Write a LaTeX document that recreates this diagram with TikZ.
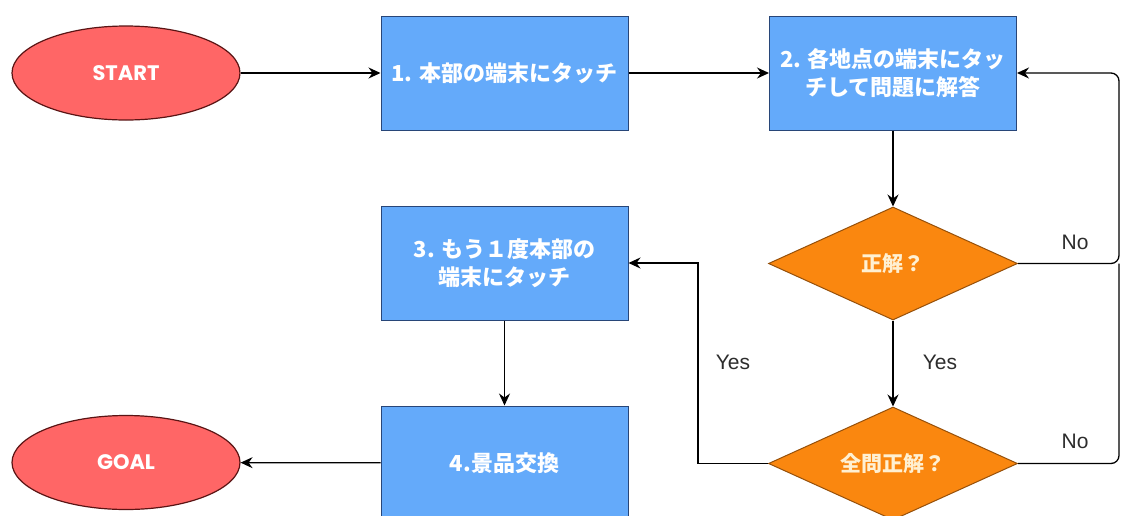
\documentclass[tikz,border=0pt]{standalone}
\usepackage{fontspec}
\newfontfamily\jp{Noto Sans CJK JP}
\newfontfamily\disp{Poppins}
\newfontfamily\lab{Liberation Sans}
\usetikzlibrary{shapes.geometric,arrows.meta}
\definecolor{ellfill}{RGB}{255,102,102}
\definecolor{elldraw}{RGB}{90,20,20}
\definecolor{boxfill}{RGB}{100,170,250}
\definecolor{boxdraw}{RGB}{40,70,120}
\definecolor{diafill}{RGB}{250,135,15}
\definecolor{diadraw}{RGB}{150,80,10}
\definecolor{diatext}{RGB}{255,240,210}
\definecolor{labtext}{RGB}{45,45,45}
\begin{document}
\begin{tikzpicture}[x=1pt,y=-1pt,
  term/.style={ellipse, draw=elldraw, fill=ellfill, line width=1.2pt, inner sep=0pt,
    minimum width=228pt, minimum height=94pt, text=white, font=\disp\bfseries\fontsize{21}{24}\selectfont},
  proc/.style={rectangle, draw=boxdraw, fill=boxfill, line width=1pt, inner sep=0pt,
    minimum width=247pt, minimum height=114pt, text=white, align=center,
    font=\jp\bfseries\fontsize{22}{28}\selectfont},
  dec/.style={diamond, draw=diadraw, fill=diafill, line width=1pt, inner sep=0pt, aspect=2.2,
    minimum width=249pt, minimum height=113pt, text=diatext,
    font=\jp\bfseries\fontsize{21}{24}\selectfont},
  lbl/.style={text=labtext, font=\lab\fontsize{21}{24}\selectfont, inner sep=1pt},
  conn/.style={draw=black, line width=1.3pt},
  arr/.style={conn, -{Stealth[length=12pt, width=11pt, inset=4pt]}}
]
\useasboundingbox (0,0) rectangle (1122,515);
\clip (0,0) rectangle (1122,515);
\fill[white] (0,0) rectangle (1122,515);

\node[term] (start) at (126,73) {START};
\node[proc] (b1) at (504.5,73) {1. 本部の端末にタッチ};
\node[proc] (b2) at (893,73) {2. 各地点の端末にタッ\\チして問題に解答};
\node[dec] (d1) at (893,263.5) {正解？};
\node[proc] (b3) at (504.5,263) {3. もう１度本部の\\端末にタッチ};
\node[dec] (d2) at (893,463.5) {全問正解？};
\node[proc] (b4) at (504.5,463) {4.景品交換};
\node[term] (goal) at (126,462.5) {GOAL};

\coordinate (rx) at (1119,0);
\coordinate (yx) at (698,0);

\draw[arr] (start) -- (b1);
\draw[arr] (b1) -- (b2);
\draw[arr] (b2) -- (d1);
\draw[arr] (d1) -- (d2);
\draw[arr] (b3) -- (b4);
\draw[arr] (b4) -- (goal);
\draw[arr, rounded corners=8pt] (d1.east) -- (d1.east -| rx) -- (b2.east -| rx) -- (b2.east);
\draw[conn, rounded corners=8pt] (d2.east) -- (d2.east -| rx) -- (d1.east -| rx);
\draw[arr] (d2.west) -- (d2.west -| yx) -- (b3.east -| yx) -- (b3.east);

\node[lbl] (no1) at (1075,242) {No};
\node[lbl] (no2) at (1075,441) {No};
\node[lbl] (yes1) at (940,362) {Yes};
\node[lbl] (yes2) at (733,362) {Yes};
\end{tikzpicture}
\end{document}
